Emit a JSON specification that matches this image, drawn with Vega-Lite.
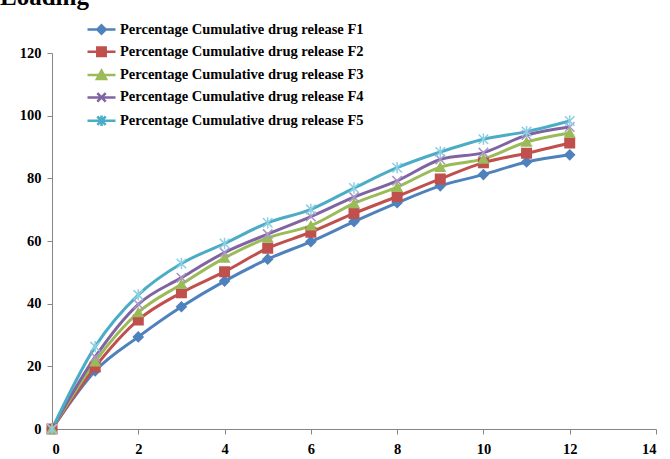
{
  "$schema": "https://vega.github.io/schema/vega-lite/v6.json",
  "width": 604,
  "height": 376,
  "autosize": {"type": "none"},
  "padding": {"left": 52, "top": 53, "right": 14, "bottom": 30},
  "background": "white",
  "title": {"text": "Loading", "anchor": "start", "frame": "group", "font": "Liberation Serif", "fontSize": 25, "fontWeight": "bold", "color": "black", "dx": -52, "dy": -11, "offset": 0},
  "config": {
    "view": {"stroke": null},
    "axis": {"labelFont": "Liberation Serif", "labelFontSize": 14.5, "labelFontWeight": "bold", "labelColor": "black", "domainColor": "#868686", "tickColor": "#868686", "grid": false, "title": null, "tickSize": 5}
  },
  "data": {"values": [
    {"t": 0, "series": "Percentage Cumulative drug release F1", "value": 0},
    {"t": 1, "series": "Percentage Cumulative drug release F1", "value": 18.5},
    {"t": 2, "series": "Percentage Cumulative drug release F1", "value": 29.4},
    {"t": 3, "series": "Percentage Cumulative drug release F1", "value": 39},
    {"t": 4, "series": "Percentage Cumulative drug release F1", "value": 47.2},
    {"t": 5, "series": "Percentage Cumulative drug release F1", "value": 54.2},
    {"t": 6, "series": "Percentage Cumulative drug release F1", "value": 59.8},
    {"t": 7, "series": "Percentage Cumulative drug release F1", "value": 66.2},
    {"t": 8, "series": "Percentage Cumulative drug release F1", "value": 72.2},
    {"t": 9, "series": "Percentage Cumulative drug release F1", "value": 77.6},
    {"t": 10, "series": "Percentage Cumulative drug release F1", "value": 81.2},
    {"t": 11, "series": "Percentage Cumulative drug release F1", "value": 85.2},
    {"t": 12, "series": "Percentage Cumulative drug release F1", "value": 87.5},
    {"t": 0, "series": "Percentage Cumulative drug release F2", "value": 0},
    {"t": 1, "series": "Percentage Cumulative drug release F2", "value": 19.8},
    {"t": 2, "series": "Percentage Cumulative drug release F2", "value": 34.8},
    {"t": 3, "series": "Percentage Cumulative drug release F2", "value": 43.5},
    {"t": 4, "series": "Percentage Cumulative drug release F2", "value": 50.2},
    {"t": 5, "series": "Percentage Cumulative drug release F2", "value": 57.7},
    {"t": 6, "series": "Percentage Cumulative drug release F2", "value": 62.8},
    {"t": 7, "series": "Percentage Cumulative drug release F2", "value": 68.8},
    {"t": 8, "series": "Percentage Cumulative drug release F2", "value": 74.2},
    {"t": 9, "series": "Percentage Cumulative drug release F2", "value": 79.8},
    {"t": 10, "series": "Percentage Cumulative drug release F2", "value": 85},
    {"t": 11, "series": "Percentage Cumulative drug release F2", "value": 88},
    {"t": 12, "series": "Percentage Cumulative drug release F2", "value": 91.3},
    {"t": 0, "series": "Percentage Cumulative drug release F3", "value": 0},
    {"t": 1, "series": "Percentage Cumulative drug release F3", "value": 21.5},
    {"t": 2, "series": "Percentage Cumulative drug release F3", "value": 37.2},
    {"t": 3, "series": "Percentage Cumulative drug release F3", "value": 46.2},
    {"t": 4, "series": "Percentage Cumulative drug release F3", "value": 54.6},
    {"t": 5, "series": "Percentage Cumulative drug release F3", "value": 61},
    {"t": 6, "series": "Percentage Cumulative drug release F3", "value": 64.9},
    {"t": 7, "series": "Percentage Cumulative drug release F3", "value": 72},
    {"t": 8, "series": "Percentage Cumulative drug release F3", "value": 77.2},
    {"t": 9, "series": "Percentage Cumulative drug release F3", "value": 83.6},
    {"t": 10, "series": "Percentage Cumulative drug release F3", "value": 86.2},
    {"t": 11, "series": "Percentage Cumulative drug release F3", "value": 91.6},
    {"t": 12, "series": "Percentage Cumulative drug release F3", "value": 94.5},
    {"t": 0, "series": "Percentage Cumulative drug release F4", "value": 0},
    {"t": 1, "series": "Percentage Cumulative drug release F4", "value": 23},
    {"t": 2, "series": "Percentage Cumulative drug release F4", "value": 39.8},
    {"t": 3, "series": "Percentage Cumulative drug release F4", "value": 48.3},
    {"t": 4, "series": "Percentage Cumulative drug release F4", "value": 56.3},
    {"t": 5, "series": "Percentage Cumulative drug release F4", "value": 62.2},
    {"t": 6, "series": "Percentage Cumulative drug release F4", "value": 67.8},
    {"t": 7, "series": "Percentage Cumulative drug release F4", "value": 74},
    {"t": 8, "series": "Percentage Cumulative drug release F4", "value": 79.2},
    {"t": 9, "series": "Percentage Cumulative drug release F4", "value": 86},
    {"t": 10, "series": "Percentage Cumulative drug release F4", "value": 88.2},
    {"t": 11, "series": "Percentage Cumulative drug release F4", "value": 93.8},
    {"t": 12, "series": "Percentage Cumulative drug release F4", "value": 96.4},
    {"t": 0, "series": "Percentage Cumulative drug release F5", "value": 0},
    {"t": 1, "series": "Percentage Cumulative drug release F5", "value": 26.3},
    {"t": 2, "series": "Percentage Cumulative drug release F5", "value": 42.8},
    {"t": 3, "series": "Percentage Cumulative drug release F5", "value": 52.8},
    {"t": 4, "series": "Percentage Cumulative drug release F5", "value": 59.2},
    {"t": 5, "series": "Percentage Cumulative drug release F5", "value": 65.8},
    {"t": 6, "series": "Percentage Cumulative drug release F5", "value": 70.1},
    {"t": 7, "series": "Percentage Cumulative drug release F5", "value": 76.9},
    {"t": 8, "series": "Percentage Cumulative drug release F5", "value": 83.4},
    {"t": 9, "series": "Percentage Cumulative drug release F5", "value": 88.4},
    {"t": 10, "series": "Percentage Cumulative drug release F5", "value": 92.5},
    {"t": 11, "series": "Percentage Cumulative drug release F5", "value": 94.9},
    {"t": 12, "series": "Percentage Cumulative drug release F5", "value": 98.3}
  ]},
  "encoding": {
    "x": {"field": "t", "type": "quantitative", "scale": {"domain": [0, 14], "nice": false}, "axis": {"values": [0, 2, 4, 6, 8, 10, 12, 14], "labelPadding": 8}},
    "y": {"field": "value", "type": "quantitative", "scale": {"domain": [0, 120], "nice": false}, "axis": {"values": [0, 20, 40, 60, 80, 100, 120], "labelPadding": 6}},
    "color": {
      "field": "series", "type": "nominal",
      "scale": {"range": ["#4F81BD", "#C0504D", "#9BBB59", "#8064A2", "#4BACC6"]},
      "legend": {
        "orient": "none", "legendX": 41, "legendY": -32, "title": null, "padding": 0,
        "labelFont": "Liberation Serif", "labelFontSize": 14.5, "labelFontWeight": "bold", "labelColor": "black", "labelLimit": 0,
        "symbolSize": 196, "labelOffset": 10, "rowPadding": 3.3,
        "encode": {"symbols": {"update": {
          "shape": {"signal": "indexof(datum.value,'F1')>=0 ? 'M-2,0L2,0M0,-0.6L0.6,0L0,0.6L-0.6,0Z' : indexof(datum.value,'F2')>=0 ? 'M-2,0L2,0M-0.6,-0.6L0.6,-0.6L0.6,0.6L-0.6,0.6Z' : indexof(datum.value,'F3')>=0 ? 'M-2,0L2,0M0,-0.65L0.65,0.55L-0.65,0.55Z' : indexof(datum.value,'F4')>=0 ? 'M-2,0L2,0M-0.6,-0.6L0.6,0.6M-0.6,0.6L0.6,-0.6' : 'M-2,0L2,0M-0.6,-0.6L0.6,0.6M-0.6,0.6L0.6,-0.6M0,-0.75L0,0.75'"},
          "strokeWidth": {"value": 2.5},
          "fill": {"scale": "color", "field": "value"},
          "stroke": {"scale": "color", "field": "value"},
          "fillOpacity": {"value": 1},
          "strokeOpacity": {"value": 1}
        }}}
      }
    }
  },
  "layer": [
    {"mark": {"type": "line", "interpolate": "monotone", "strokeWidth": 3}},
    {
      "mark": {"type": "point", "filled": true, "size": 90, "strokeWidth": 1.5, "opacity": 1},
      "encoding": {
        "shape": {"field": "series", "type": "nominal", "scale": {"range": ["diamond", "square", "triangle-up", "M-1,-1L1,1M-1,1L1,-1", "M-1,-1L1,1M-1,1L1,-1M0,-1.2L0,1.2"]}, "legend": null},
        "stroke": {"field": "series", "type": "nominal", "scale": {"range": ["#4F81BD", "#C0504D", "#9BBB59", "#A995C8", "#8BCFE3"]}, "legend": null}
      }
    }
  ]
}
